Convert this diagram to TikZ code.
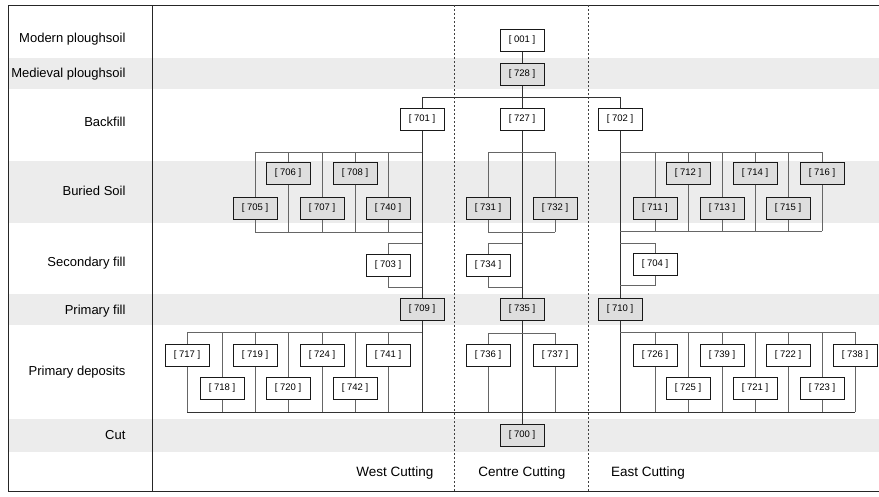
\documentclass[tikz,border=0pt]{standalone}
\usepackage{fontspec}
\setmainfont{Liberation Sans}
\begin{document}
\begin{tikzpicture}[x=1pt,y=-1pt,
  box/.style={draw=black!90, line width=1pt, minimum width=44pt, minimum height=22pt, inner sep=0pt, fill=white, font=\fontsize{9.5}{10}\selectfont},
  gbox/.style={box, fill=gray!26},
  con/.style={draw=black!80, line width=0.6pt},
  sub/.style={draw=black!60, line width=0.5pt},
  band/.style={fill=gray!15, draw=none},
  lab/.style={anchor=east, font=\fontsize{13}{15}\selectfont},
  cutlab/.style={font=\fontsize{13.5}{15}\selectfont},
  divider/.style={draw=black!75, line width=0.6pt, dash pattern=on 2pt off 2pt}]
\useasboundingbox (0,0) rectangle (879,496);
% bands
\fill[band] (8,58) rectangle (879,89);
\fill[band] (8,161) rectangle (879,223);
\fill[band] (8,294) rectangle (879,325);
\fill[band] (8,419) rectangle (879,452);
% frame
\draw[line width=1pt, black!85] (879,5) -- (8,5) -- (8,491) -- (879,491);
\draw[line width=0.8pt, black!85] (152,5) -- (152,491);
\draw[divider] (454,5) -- (454,491);
\draw[divider] (588,5) -- (588,491);
% row labels
\node[lab] (lModern) at (129,39) {Modern ploughsoil};
\node[lab] (lMedieval) at (129,74) {Medieval ploughsoil};
\node[lab] (lBackfill) at (129,122) {Backfill};
\node[lab] (lBuried) at (129,191) {Buried Soil};
\node[lab] (lSecondary) at (129,263) {Secondary fill};
\node[lab] (lPrimary) at (129,311) {Primary fill};
\node[lab] (lDeposits) at (129,372) {Primary deposits};
\node[lab] (lCut) at (129,435) {Cut};
\node[cutlab] (lWest) at (395,473) {West Cutting};
\node[cutlab] (lCentre) at (522,473) {Centre Cutting};
\node[cutlab] (lEast) at (648,473) {East Cutting};
% nodes
\node[box]  (n001) at (522,40) {[ 001 ]};
\node[gbox] (n728) at (522,74) {[ 728 ]};
\node[box]  (n701) at (422,119) {[ 701 ]};
\node[box]  (n727) at (522,119) {[ 727 ]};
\node[box]  (n702) at (620,119) {[ 702 ]};
% buried soil
\node[gbox] (n706) at (288,173) {[ 706 ]};
\node[gbox] (n708) at (355,173) {[ 708 ]};
\node[gbox] (n705) at (255,208) {[ 705 ]};
\node[gbox] (n707) at (322,208) {[ 707 ]};
\node[gbox] (n740) at (388,208) {[ 740 ]};
\node[gbox] (n731) at (488,208) {[ 731 ]};
\node[gbox] (n732) at (555,208) {[ 732 ]};
\node[gbox] (n712) at (688,173) {[ 712 ]};
\node[gbox] (n714) at (755,173) {[ 714 ]};
\node[gbox] (n716) at (822,173) {[ 716 ]};
\node[gbox] (n711) at (655,208) {[ 711 ]};
\node[gbox] (n713) at (722,208) {[ 713 ]};
\node[gbox] (n715) at (788,208) {[ 715 ]};
% secondary fill
\node[box] (n703) at (388,265) {[ 703 ]};
\node[box] (n734) at (488,265) {[ 734 ]};
\node[box] (n704) at (655,264) {[ 704 ]};
% primary fill
\node[gbox] (n709) at (422,309) {[ 709 ]};
\node[gbox] (n735) at (522,309) {[ 735 ]};
\node[gbox] (n710) at (620,309) {[ 710 ]};
% primary deposits
\node[box] (n717) at (187,355) {[ 717 ]};
\node[box] (n719) at (255,355) {[ 719 ]};
\node[box] (n724) at (322,355) {[ 724 ]};
\node[box] (n741) at (388,355) {[ 741 ]};
\node[box] (n718) at (222,388) {[ 718 ]};
\node[box] (n720) at (288,388) {[ 720 ]};
\node[box] (n742) at (355,388) {[ 742 ]};
\node[box] (n736) at (488,355) {[ 736 ]};
\node[box] (n737) at (555,355) {[ 737 ]};
\node[box] (n726) at (655,355) {[ 726 ]};
\node[box] (n739) at (722,355) {[ 739 ]};
\node[box] (n722) at (788,355) {[ 722 ]};
\node[box] (n738) at (855,355) {[ 738 ]};
\node[box] (n725) at (688,388) {[ 725 ]};
\node[box] (n721) at (755,388) {[ 721 ]};
\node[box] (n723) at (822,388) {[ 723 ]};
% cut
\node[gbox] (n700) at (522,435) {[ 700 ]};
% coordinates
\coordinate (tbL) at (422,97);
\coordinate (tbR) at (620,97);
\coordinate (wbT) at (422,152); \coordinate (wbTL) at (255,152);
\coordinate (wbB) at (422,232); \coordinate (wbBL) at (255,232);
\coordinate (cbT) at (488,152); \coordinate (cbTR) at (555,152);
\coordinate (cbB) at (488,232); \coordinate (cbBR) at (555,232);
\coordinate (ebT) at (620,152); \coordinate (ebTR) at (822,152);
\coordinate (ebB) at (620,231); \coordinate (ebBR) at (822,231);
\coordinate (wsT) at (422,243); \coordinate (wsB) at (422,287);
\coordinate (csT) at (522,243); \coordinate (csB) at (522,287);
\coordinate (esT) at (620,243); \coordinate (esB) at (620,285);
\coordinate (wpT) at (422,332); \coordinate (wpTL) at (187,332);
\coordinate (cpT) at (488,333); \coordinate (cpTR) at (555,333);
\coordinate (epT) at (620,332); \coordinate (epTR) at (855,332);
\coordinate (pbL) at (187,412); \coordinate (pbR) at (855,412);
% trunk connectors
\draw[con] (n001) -- (n728);
\draw[con] (n728) -- (n727);
\draw[con] (tbL) -- (tbR);
\draw[con] (tbL) -- (n701.north);
\draw[con] (tbR) -- (n702.north);
\draw[con] (n701) -- (n709);
\draw[con] (n727) -- (n735);
\draw[con] (n702) -- (n710);
\draw[con] (n735) -- (n700);
\draw[con] (n709.south) -- (n709.south |- pbL);
\draw[con] (n710.south) -- (n710.south |- pbL);
% buried soil
\draw[sub] (wbTL) -- (wbT) (wbBL) -- (wbB);
\draw[sub] (cbT) -- (cbTR) (cbB) -- (cbBR);
\draw[sub] (ebT) -- (ebTR) (ebB) -- (ebBR);
\foreach \n in {705,706,707,708,740}
  \draw[sub] (n\n.north |- wbT) -- (n\n.north) (n\n.south) -- (n\n.south |- wbB);
\foreach \n in {731,732}
  \draw[sub] (n\n.north |- cbT) -- (n\n.north) (n\n.south) -- (n\n.south |- cbB);
\foreach \n in {711,712,713,714,715,716}
  \draw[sub] (n\n.north |- ebT) -- (n\n.north) (n\n.south) -- (n\n.south |- ebB);
% secondary fill
\draw[sub] (wsT) -- (wsT -| n703) -- (n703.north) (n703.south) -- (n703.south |- wsB) -- (wsB);
\draw[sub] (csT) -- (csT -| n734) -- (n734.north) (n734.south) -- (n734.south |- csB) -- (csB);
\draw[sub] (esT) -- (esT -| n704) -- (n704.north) (n704.south) -- (n704.south |- esB) -- (esB);
% primary deposits
\draw[sub] (wpTL) -- (wpT) (cpT) -- (cpTR) (epT) -- (epTR);
\draw[con] (pbL) -- (pbR);
\foreach \n in {717,718,719,720,724,742,741}
  \draw[sub] (n\n.north |- wpT) -- (n\n.north) (n\n.south) -- (n\n.south |- pbL);
\foreach \n in {736,737}
  \draw[sub] (n\n.north |- cpT) -- (n\n.north) (n\n.south) -- (n\n.south |- pbL);
\foreach \n in {726,725,739,721,722,723,738}
  \draw[sub] (n\n.north |- epT) -- (n\n.north) (n\n.south) -- (n\n.south |- pbL);
\end{tikzpicture}
\end{document}
